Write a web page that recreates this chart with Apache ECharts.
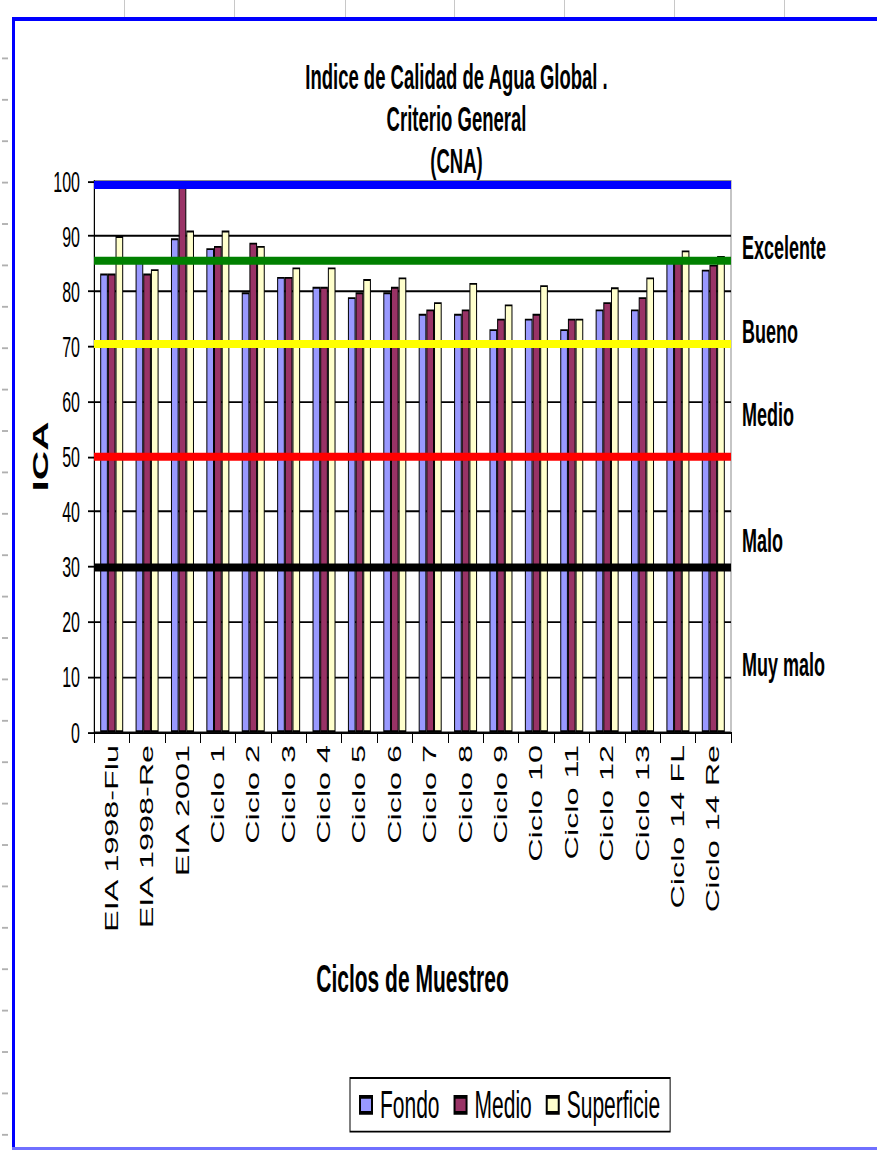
<!DOCTYPE html>
<html>
<head>
<meta charset="utf-8">
<script src="https://cdn.jsdelivr.net/npm/echarts@6/dist/echarts.min.js"></script>
<style>
html,body{margin:0;padding:0;background:#fff;overflow:hidden;}
#wrap{width:877px;height:1150px;overflow:hidden;position:relative;}
#c{width:877px;height:622px;transform:scaleY(1.8489);transform-origin:0 0;}
</style>
</head>
<body>
<div id="wrap"><div id="c"></div></div>
<script>
// ---- data ----
const categories = ['EIA 1998-Flu','EIA 1998-Re','EIA 2001','Ciclo 1','Ciclo 2','Ciclo 3','Ciclo 4','Ciclo 5','Ciclo 6','Ciclo 7','Ciclo 8','Ciclo 9','Ciclo 10','Ciclo 11','Ciclo 12','Ciclo 13','Ciclo 14 FL','Ciclo 14 Re'];
const fondo      = [83.2, 86.0, 89.6, 87.8, 79.8, 82.6, 80.8, 78.9, 79.8, 75.9, 75.9, 73.1, 75.0, 73.1, 76.7, 76.7, 85.5, 83.9];
const medio      = [83.2, 83.2, 100.0, 88.2, 88.8, 82.6, 80.8, 79.8, 80.8, 76.7, 76.7, 75.0, 75.9, 75.0, 78.0, 78.9, 85.5, 84.8];
const superficie = [90.0, 84.0, 91.0, 91.0, 88.2, 84.3, 84.3, 82.2, 82.5, 78.0, 81.5, 77.6, 81.1, 75.0, 80.7, 82.5, 87.4, 86.4];
const seriesNames = ['Fondo','Medio','Superficie'];
const thresholds = [99.3, 85.6, 70.5, 50, 30];
const classLabels = ['Excelente','Bueno','Medio','Malo','Muy malo'];
const yTicks = [0,10,20,30,40,50,60,70,80,90,100];
const titleLines = ['Indice de Calidad de Agua Global .','Criterio General','(CNA)'];

// ---- layout helpers (reference px -> chart px, vertical scale) ----
const S = 1150/622;
const R = y => y / S;

const thresholdColors = ['#0000ff','#008000','#ffff00','#ff0000','#000000'];
const classLabelY = [248, 332, 415, 541, 665];
const FONT = '"Liberation Sans", Arial, sans-serif';

const graphic = [];
// blue frame
graphic.push({type:'rect', shape:{x:12,y:R(17),width:865,height:R(4)}, style:{fill:'#0000ff'}, silent:true});
graphic.push({type:'rect', shape:{x:12,y:R(17),width:3,height:622}, style:{fill:'#0000ff'}, silent:true});
graphic.push({type:'rect', shape:{x:12,y:R(1147),width:865,height:R(3)}, style:{fill:'#7070ff'}, silent:true});
// spreadsheet grid remnants
[124,234,345,454,564,674,784].forEach(x=>{
  graphic.push({type:'line', shape:{x1:x+0.5,y1:0,x2:x+0.5,y2:R(17)}, style:{stroke:'#c8c8c8',lineWidth:1}, silent:true});
});
for(let y=17+41.4; y<1150; y+=41.4){
  graphic.push({type:'line', shape:{x1:2,y1:R(y),x2:8,y2:R(y)}, style:{stroke:'#b0b0b0',lineWidth:1}, silent:true});
}
// class labels on right
classLabels.forEach((t,i)=>{
  graphic.push({type:'text', left:742, top:R(classLabelY[i])-9, style:{text:t, fill:'#000', font:'bold 18px '+FONT}, silent:true});
});

const common = {
  type:'bar', barGap:'0%', barCategoryGap:'35%'
};
const colors = ['#9999ff','#993366','#ffffcc'];

const option = {
  animation:false,
  backgroundColor:'#ffffff',
  title:{
    text: titleLines.join('\n'),
    left:451.5, top:R(78)-17, textAlign:'center',
    textStyle:{fontFamily:FONT, fontWeight:'bold', fontSize:18.5, lineHeight:R(42), color:'#000'}
  },
  legend:{
    data: seriesNames,
    left:350, top:R(1078),
    orient:'horizontal',
    itemWidth:12, itemHeight:R(16), itemGap:14,
    icon:'rect',
    borderColor:'#000', borderWidth:1,
    padding:[4,10,4,9],
    backgroundColor:'#fff',
    textStyle:{fontFamily:FONT, fontSize:21, color:'#000', padding:[0,0,0,3]}
  },
  grid:{left:94, right:146, top:R(181), bottom:622-R(732), show:true, borderColor:'#8c8c8c', borderWidth:1, backgroundColor:'transparent'},
  xAxis:{
    type:'category', data:categories,
    name:'Ciclos de Muestreo', nameLocation:'middle', nameGap:R(980-732)-11,
    nameMoveOverlap:false,
    nameTextStyle:{fontFamily:FONT, fontWeight:'bold', fontSize:21, color:'#000'},
    axisLine:{lineStyle:{color:'#000', width:1}},
    axisTick:{show:true, length:6, lineStyle:{color:'#000'}},
    axisLabel:{interval:0, rotate:90, margin:7, fontFamily:FONT, fontSize:17.5, color:'#000'}
  },
  yAxis:{
    type:'value', min:yTicks[0], max:yTicks[yTicks.length-1], interval:yTicks[1]-yTicks[0],
    name:'ICA', nameLocation:'middle', nameGap:43,
    nameMoveOverlap:false,
    nameTextStyle:{fontFamily:FONT, fontWeight:'bold', fontSize:22, color:'#000'},
    axisLine:{show:true, lineStyle:{color:'#000', width:1}},
    axisTick:{show:true, length:6, lineStyle:{color:'#000'}},
    axisLabel:{margin:14, fontFamily:FONT, fontSize:16, color:'#000'},
    splitLine:{show:true, lineStyle:{color:'#000', width:1}}
  },
  series:[
    Object.assign({}, common, {name:seriesNames[0], data:fondo, itemStyle:{color:colors[0], borderColor:'#000', borderWidth:1}}),
    Object.assign({}, common, {name:seriesNames[1], data:medio, itemStyle:{color:colors[1], borderColor:'#000', borderWidth:1}}),
    Object.assign({}, common, {name:seriesNames[2], data:superficie, itemStyle:{color:colors[2], borderColor:'#000', borderWidth:1},
      markLine:{
        silent:true, symbol:['none','none'], label:{show:false},
        data: thresholds.map((v,i)=>({yAxis:v, lineStyle:{color:thresholdColors[i], width:R(8), type:'solid'}}))
      }
    })
  ],
  graphic: graphic
};

const chart = echarts.init(document.getElementById('c'), null, {renderer:'svg', width:877, height:622});
chart.setOption(option);
</script>
</body>
</html>
